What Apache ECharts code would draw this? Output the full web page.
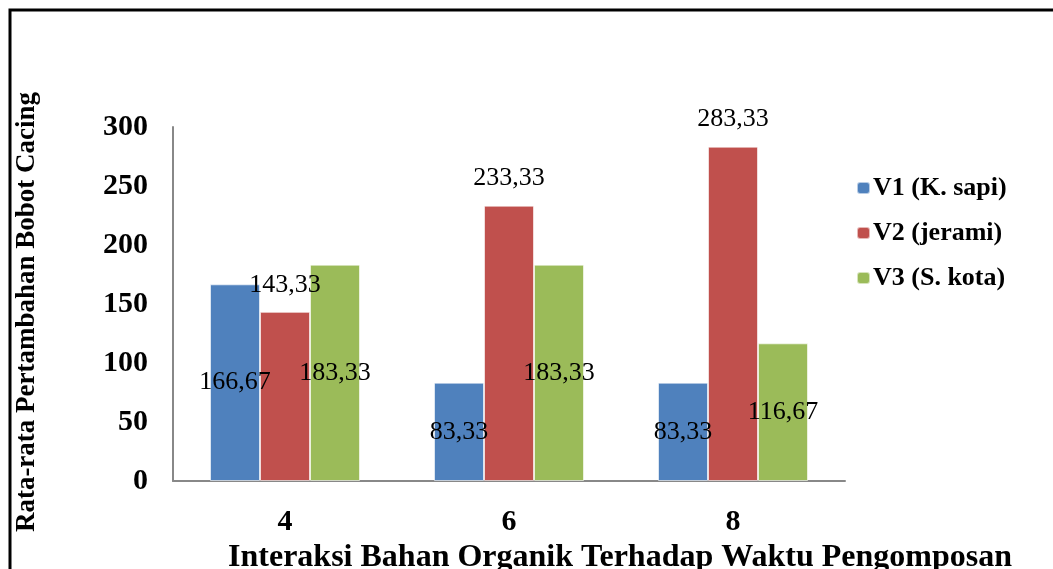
<!DOCTYPE html>
<html>
<head>
<meta charset="utf-8">
<script src="https://cdn.jsdelivr.net/npm/echarts@6/dist/echarts.min.js"></script>
<style>
    html, body { margin: 0; padding: 0; background: #fff; }
    #chart { width: 1053px; height: 569px; }
</style>
</head>
<body>
<div id="chart"></div>
<script>
    // data
    var categories = ['4', '6', '8']
    var seriesNames = ['V1 (K. sapi)', 'V2 (jerami)', 'V3 (S. kota)']
    var v1 = [166.67, 83.33, 83.33]
    var v2 = [143.33, 233.33, 283.33]
    var v3 = [183.33, 183.33, 116.67]
    var yTicks = [0, 50, 100, 150, 200, 250, 300]

    var colors = ['#4F81BD', '#C0504D', '#9BBB59']
    var serif = '"Liberation Serif", "Times New Roman", serif'

    function fmt(p) {
        return p.value.toFixed(2).replace('.', ',')
    }

    function bar(name, data, color, pos, dist) {
        return {
            name: name,
            type: 'bar',
            data: data,
            barWidth: 50,
            barGap: '0%',
            itemStyle: {
                color: color,
                borderColor: 'rgba(255,255,255,0.6)',
                borderWidth: 1
            },
            label: {
                show: true,
                position: pos,
                distance: dist,
                formatter: fmt,
                fontFamily: serif,
                fontSize: 26,
                color: '#000'
            },
            animation: false
        }
    }

    var chart = echarts.init(document.getElementById('chart'))
    chart.setOption({
        backgroundColor: '#fff',
        textStyle: { fontFamily: serif },
        grid: {
            left: 173,
            right: 208,
            top: 127,
            bottom: 88,
            containLabel: false,
            outerBoundsMode: 'none'
        },
        legend: {
            orient: 'vertical',
            left: 851,
            top: 170,
            itemWidth: 13,
            itemHeight: 12,
            itemGap: 19,
            data: seriesNames,
            textStyle: {
                fontFamily: serif,
                fontWeight: 'bold',
                fontSize: 26,
                color: '#000',
                padding: [0, 0, 0, -2]
            }
        },
        xAxis: {
            type: 'category',
            data: categories,
            name: 'Interaksi Bahan Organik Terhadap Waktu Pengomposan',
            nameLocation: 'middle',
            nameGap: 58,
            nameTextStyle: {
                fontFamily: serif,
                fontWeight: 'bold',
                fontSize: 32,
                color: '#000',
                padding: [0, 0, 0, 222]
            },
            axisLine: { lineStyle: { color: '#888', width: 2 } },
            axisTick: { show: false },
            axisLabel: {
                margin: 26,
                fontFamily: serif,
                fontWeight: 'bold',
                fontSize: 30,
                color: '#000'
            }
        },
        yAxis: {
            type: 'value',
            min: yTicks[0],
            max: yTicks[yTicks.length - 1],
            interval: 50,
            name: 'Rata-rata Pertambahan Bobot Cacing',
            nameLocation: 'middle',
            nameGap: 132,
            nameTextStyle: {
                fontFamily: serif,
                fontWeight: 'bold',
                fontSize: 27,
                color: '#000',
                padding: [0, 16, 0, 0]
            },
            axisLine: { show: true, lineStyle: { color: '#888', width: 2 } },
            axisTick: { show: false },
            splitLine: { show: false },
            axisLabel: {
                margin: 25,
                fontFamily: serif,
                fontWeight: 'bold',
                fontSize: 30,
                color: '#000'
            }
        },
        graphic: [
            {
                type: 'polyline',
                shape: { points: [[10, 569], [10, 10], [1053, 10]] },
                style: { stroke: '#000', lineWidth: 3, fill: null }
            }
        ],
        series: [
            bar(seriesNames[0], v1, colors[0], 'inside', 0),
            bar(seriesNames[1], v2, colors[1], 'top', 14),
            bar(seriesNames[2], v3, colors[2], 'inside', 0)
        ]
    })
</script>
</body>
</html>
